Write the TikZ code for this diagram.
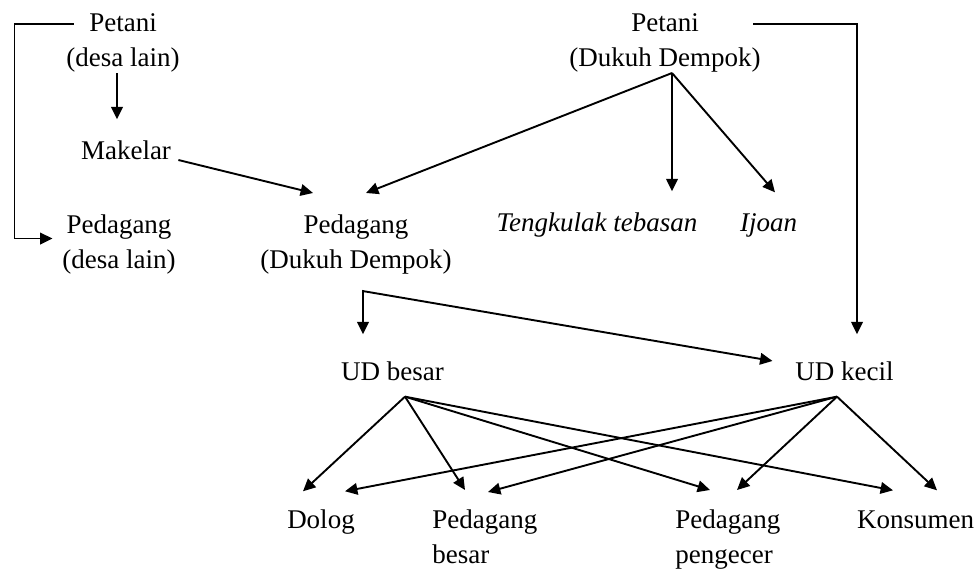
\documentclass[tikz,border=0pt]{standalone}
\usepackage{fontspec}
\setmainfont{Liberation Serif}
\usetikzlibrary{arrows.meta}
\tikzstyle{actor} = [inner sep=0pt, font=\fontsize{13.5}{17.5}\selectfont, align=center]
\tikzstyle{actorl} = [inner sep=0pt, font=\fontsize{13.5}{17.5}\selectfont, align=left]
\tikzstyle{arrow} = [line width=0.95pt,-{Triangle[length=6.2pt,width=5.8pt]}]
\tikzstyle{biarrow} = [line width=0.95pt,{Triangle[length=6.2pt,width=5.8pt]}-{Triangle[length=6.2pt,width=5.8pt]}]

\begin{document}
\begin{tikzpicture}[x=0.5pt,y=-0.5pt]
\useasboundingbox (0,0) rectangle (979,572);

\node [actor, anchor=north] (petaniDL) at (123,13.6) {Petani\\(desa lain)};
\node [actor, anchor=base] (makelar) at (126,160) {Makelar};
\node [actor, anchor=north] (pedagangDL) at (119,214.6) {Pedagang\\(desa lain)};
\node [actor, anchor=north] (pedagangDD) at (356,214.6) {Pedagang\\(Dukuh Dempok)};

\node [actor, anchor=north] (petaniDD) at (665,13.6) {Petani\\(Dukuh Dempok)};
\node [actor, anchor=base] (tengkulak) at (597,232) {\itshape Tengkulak tebasan};
\node [actor, anchor=base] (ijoan) at (768.5,232) {\itshape Ijoan};

\node [actor, anchor=base] (udbesar) at (392.5,380) {UD besar};
\node [actor, anchor=base] (udkecil) at (844.5,380) {UD kecil};

\node [actor, anchor=base] (dolog) at (321,528) {Dolog};
\node [actorl, anchor=north west] (pedBesar) at (432,509.6) {Pedagang\\besar};
\node [actorl, anchor=north west] (pedPengecer) at (675,509.6) {Pedagang\\pengecer};
\node [actor, anchor=base] (konsumen) at (915.5,528) {Konsumen};

% desa lain
\draw [arrow] ([xshift=3.75pt,yshift=-5.2pt]petaniDL.north west) -- ++(-59,0) |- ([xshift=-4.75pt,yshift=3.1pt]pedagangDL.west);
\draw [arrow] ([xshift=-3pt]petaniDL.south) -- ([xshift=-4.5pt,yshift=10.8pt]makelar.north);
\draw [arrow] ([xshift=3.5pt]makelar.base east) -- ([xshift=-21.5pt,yshift=10.8pt]pedagangDD.north);

% Dukuh Dempok
\draw [arrow] ([xshift=3.5pt]petaniDD.south) -- ([xshift=5pt,yshift=10.8pt]pedagangDD.north);
\draw [arrow] ([xshift=3.5pt]petaniDD.south) -- ([xshift=37.5pt,yshift=10.8pt]tengkulak.north);
\draw [arrow] ([xshift=3.5pt]petaniDD.south) -- ([xshift=3.25pt,yshift=10.7pt]ijoan.north);
\draw [arrow] ([xshift=-3.8pt,yshift=-5.2pt]petaniDD.north east) -| ([xshift=6.25pt,yshift=13.3pt]udkecil.north);

\draw [biarrow] ([xshift=-14.75pt,yshift=13.3pt]udbesar.north) -- ([xshift=3.5pt,yshift=-8.1pt]pedagangDD.south) -- ([xshift=-11.25pt,yshift=4.9pt]udkecil.west);

% UD besar
\draw [arrow] ([xshift=6.25pt,yshift=-8pt]udbesar.south) -- ([xshift=-9pt,yshift=8.8pt]dolog.north);
\draw [arrow] ([xshift=6.25pt,yshift=-8pt]udbesar.south) -- ([xshift=16.5pt,yshift=9.8pt]pedBesar.north west);
\draw [arrow] ([xshift=6.25pt,yshift=-8pt]udbesar.south) -- ([xshift=17.5pt,yshift=9.8pt]pedPengecer.north west);
\draw [arrow] ([xshift=6.25pt,yshift=-8pt]udbesar.south) -- ([xshift=-11.25pt,yshift=9.8pt]konsumen.north);

% UD kecil
\draw [arrow] ([xshift=-3.75pt,yshift=-8pt]udkecil.south) -- ([xshift=12pt,yshift=8.8pt]dolog.north);
\draw [arrow] ([xshift=-3.75pt,yshift=-8pt]udkecil.south) -- ([xshift=28pt,yshift=8.8pt]pedBesar.north west);
\draw [arrow] ([xshift=-3.75pt,yshift=-8pt]udkecil.south) -- ([xshift=31pt,yshift=9.8pt]pedPengecer.north west);
\draw [arrow] ([xshift=-3.75pt,yshift=-8pt]udkecil.south) -- ([xshift=10.75pt,yshift=9.8pt]konsumen.north);

\end{tikzpicture}
\end{document}
